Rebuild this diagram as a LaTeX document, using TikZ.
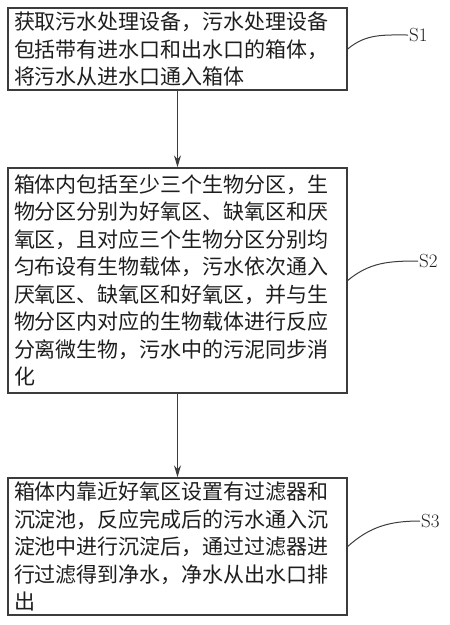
\documentclass[tikz,border=0pt]{standalone}
\usepackage{fontspec}
\newfontfamily\cjk{Noto Sans CJK SC}
\usetikzlibrary{arrows.meta}
\definecolor{edge}{HTML}{3C3C3C}
\definecolor{ink}{HTML}{1E1E1E}
\tikzset{
  stepbox/.style={draw=edge, line width=1.4pt, minimum width=339pt, inner xsep=6pt,
    text width=327pt, align=left, text=ink, font=\cjk\fontsize{21}{27.5}\selectfont},
  flow/.style={draw=edge, line width=1.2pt, -{Stealth[length=12pt,width=7pt]}},
  tag/.style={anchor=west, inner sep=1pt, text=ink, font=\fontsize{19}{22}\selectfont},
  lead/.style={draw=edge, line width=1pt}
}
\begin{document}
\begin{tikzpicture}[x=1pt,y=-1pt]
\useasboundingbox (0,0) rectangle (450,625);
\node[stepbox, minimum height=82pt] (b1) at (177.5,49)
  {获取污水处理设备，污水处理设备\\包括带有进水口和出水口的箱体，\\将污水从进水口通入箱体};
\node[stepbox, minimum height=225pt] (b2) at (177.5,280.5)
  {箱体内包括至少三个生物分区，生\\物分区分别为好氧区、缺氧区和厌\\氧区，且对应三个生物分区分别均\\匀布设有生物载体，污水依次通入\\厌氧区、缺氧区和好氧区，并与生\\物分区内对应的生物载体进行反应\\分离微生物，污水中的污泥同步消\\化};
\node[stepbox, minimum height=137pt] (b3) at (177.5,546.5)
  {箱体内靠近好氧区设置有过滤器和\\沉淀池，反应完成后的污水通入沉\\淀池中进行沉淀后，通过过滤器进\\行过滤得到净水，净水从出水口排\\出};
\draw[flow] (b1.south) -- (b2.north);
\draw[flow] (b2.south) -- (b3.north);
\node[tag] (s1) at (408,35) {S1};
\node[tag] (s2) at (418,261) {S2};
\node[tag] (s3) at (420,521) {S3};
\draw[lead] (b1.east) to[out=40,in=180] (s1.west);
\draw[lead] (b2.east) to[out=40,in=180] (s2.west);
\draw[lead] (b3.east) to[out=42,in=180] (s3.west);
\end{tikzpicture}
\end{document}
